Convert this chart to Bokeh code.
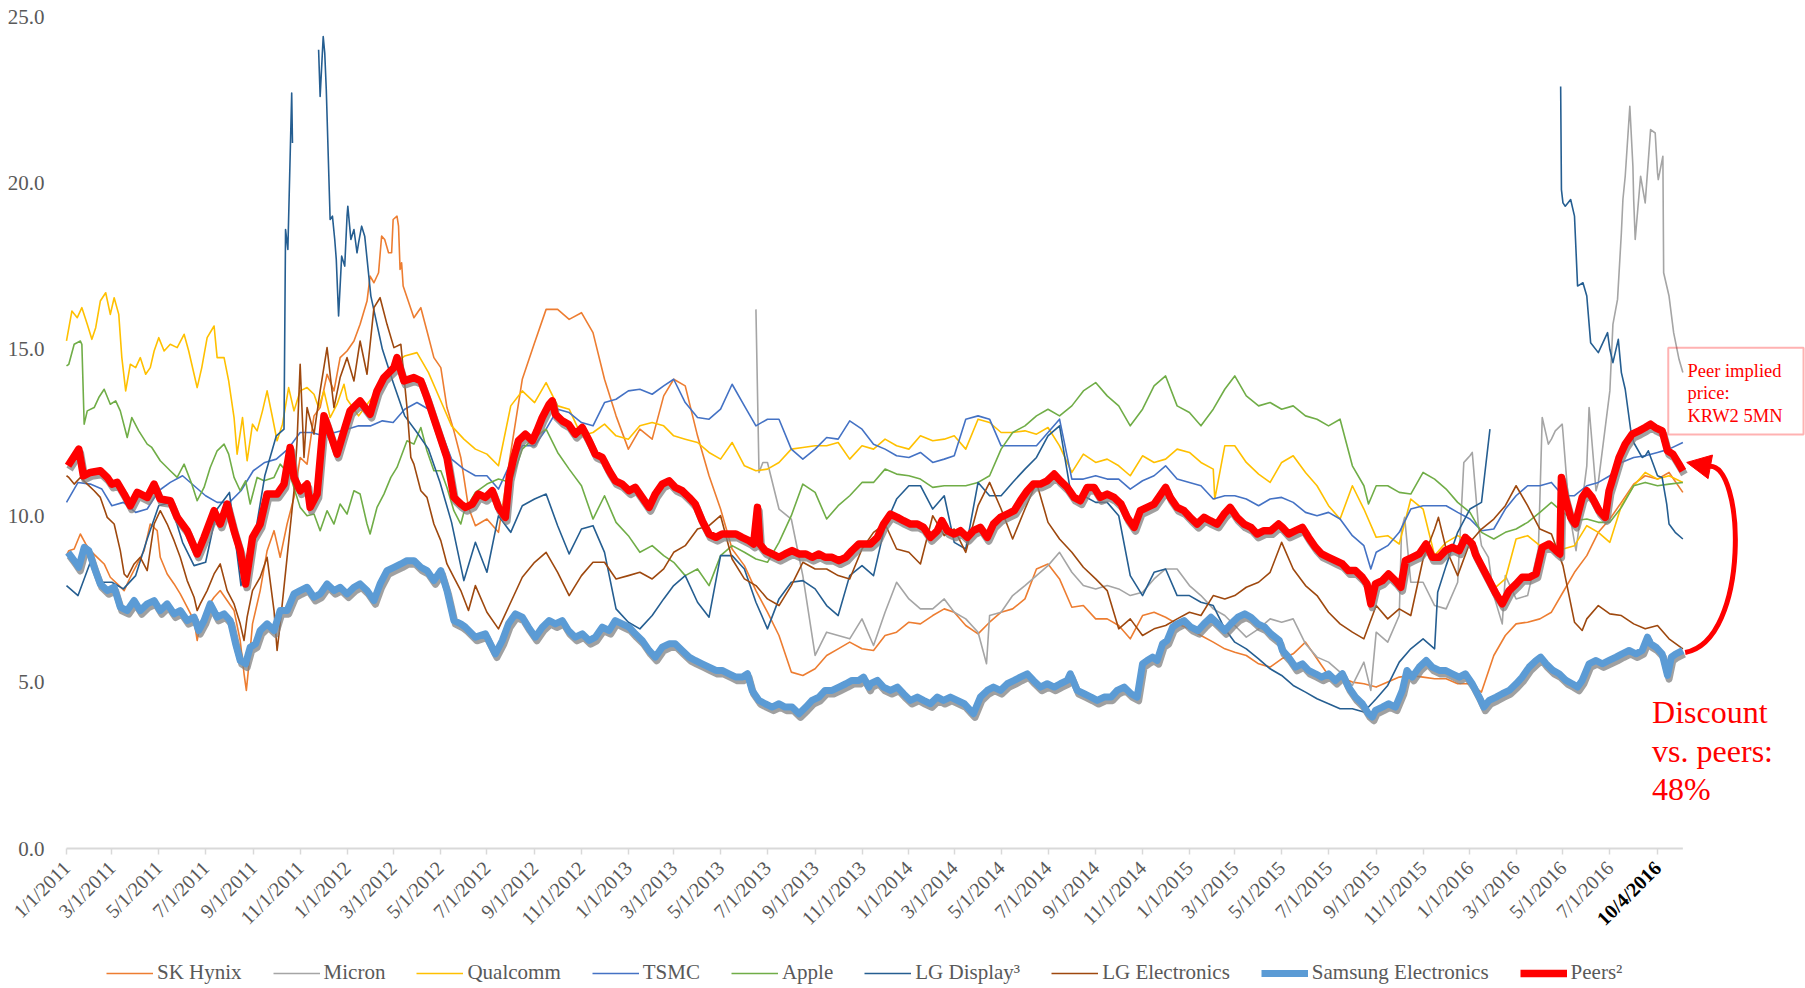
import pandas as pd
from math import pi
from bokeh.plotting import figure
from bokeh.models import (Range1d, FixedTicker, NumeralTickFormatter, Legend, LegendItem,
                          Label, Arrow, NormalHead, BoxAnnotation)
from bokeh.embed import file_html
from bokeh.resources import INLINE

# ---------------- data ----------------
GRID_DATES = [f"{y}-{m:02d}-{d:02d}" for y in range(2011, 2017) for m in range(1, 13) for d in (1, 16)]
GRID_DATES = [g for g in GRID_DATES if g <= "2016-09-16"] + ["2016-10-04"]

X_TICK_LABELS = ["1/1/2011", "3/1/2011", "5/1/2011", "7/1/2011", "9/1/2011", "11/1/2011",
                 "1/1/2012", "3/1/2012", "5/1/2012", "7/1/2012", "9/1/2012", "11/1/2012",
                 "1/1/2013", "3/1/2013", "5/1/2013", "7/1/2013", "9/1/2013", "11/1/2013",
                 "1/1/2014", "3/1/2014", "5/1/2014", "7/1/2014", "9/1/2014", "11/1/2014",
                 "1/1/2015", "3/1/2015", "5/1/2015", "7/1/2015", "9/1/2015", "11/1/2015",
                 "1/1/2016", "3/1/2016", "5/1/2016", "7/1/2016"]
LAST_TICK_DATE = "2016-09-01"
LAST_TICK_TEXT = "10/4/2016"
Y_TICKS = [0, 5, 10, 15, 20, 25]

N = None
SK_HYNIX = [
    8.8, 9.3, 9.0, 8.7, 8.2, 7.9, 8.6, 9.2, 8.6, 8.2, 7.6, 6.9, 7.0, 7.7, 7.7, 6.2, 6.8, 8.5, 8.6, 9.5, 11.7, 13.0, 14.2, 14.9,
    14.95, 15.8, 16.8, 18.4, 18.9, 16.5, 16.0, 15.4, 14.0, 12.7, 10.5, 9.7, 9.9, 9.5, 11.9, 14.1, 15.2, 16.2, 16.2, 15.9, 16.1, 15.5, 14.1, 13.0,
    12.0, 12.6, 12.3, 13.6, 14.1, 13.9, 12.4, 11.2, 10.2, 9.0, 8.5, 7.75, 7.1, 6.4, 5.3, 5.2, 5.4, 5.8, 6.0, 6.2, 6.0, 5.95, 6.4, 6.5,
    6.8, 6.75, 7.0, 7.2, 7.1, 6.7, 6.45, 6.8, 7.1, 7.2, 7.5, 8.4, 8.55, 8.1, 7.25, 7.3, 6.9, 6.9, 6.7, 6.3, 7.0, 7.1, 6.95, 6.75,
    6.6, 6.4, 6.2, 6.0, 5.9, 5.8, 5.55, 5.45, 5.7, 5.85, 6.2, 5.7, 5.2, 5.15, 5.0, 4.95, 4.85, 5.0, 5.15, 5.2, 5.15, 5.1, 5.1, 4.95,
    4.95, 4.7, 5.8, 6.4, 6.75, 6.8, 6.9, 7.1, 7.7, 8.3, 8.8, 9.5, 9.9, 10.4, 10.95, 11.2, 11.1, 11.3, 10.7]
SK_HYNIX_EXTRA = [("2011-08-22", 4.8), ("2012-03-04", 19.0)]
SK_HYNIX_DENSE = [
    ("2011-01-04", 8.95), ("2011-01-11", 9.0), ("2011-01-19", 9.45), ("2011-01-26", 9.15), ("2011-02-01", 8.95),
    ("2011-02-10", 8.75), ("2011-02-19", 8.55), ("2011-02-27", 8.15), ("2011-03-08", 7.95), ("2011-03-17", 7.75),
    ("2011-03-25", 8.15), ("2011-04-03", 8.55), ("2011-04-12", 8.95), ("2011-04-20", 9.75), ("2011-04-29", 9.55),
    ("2011-05-03", 8.75), ("2011-05-12", 8.25), ("2011-05-21", 7.95), ("2011-05-29", 7.65), ("2011-06-07", 7.25),
    ("2011-06-16", 6.85), ("2011-06-20", 6.25), ("2011-06-24", 6.75), ("2011-07-03", 7.25), ("2011-07-12", 7.55),
    ("2011-07-20", 7.75), ("2011-07-29", 7.45), ("2011-08-07", 7.15), ("2011-08-15", 6.25), ("2011-08-20", 5.25),
    ("2011-08-23", 4.75), ("2011-08-26", 5.45), ("2011-08-31", 6.75), ("2011-09-10", 7.75), ("2011-09-19", 8.95),
    ("2011-09-28", 9.55), ("2011-10-06", 8.75), ("2011-10-15", 9.75), ("2011-10-24", 10.55), ("2011-11-01", 11.75),
    ("2011-11-10", 11.55), ("2011-11-19", 13.0), ("2011-11-27", 13.25), ("2011-12-06", 14.25), ("2011-12-15", 13.75),
    ("2011-12-23", 14.75), ("2012-01-01", 14.95), ("2012-01-10", 15.25), ("2012-01-18", 15.75), ("2012-01-27", 16.45),
    ("2012-01-31", 17.2), ("2012-02-05", 17.0), ("2012-02-11", 17.3), ("2012-02-15", 18.4), ("2012-02-19", 18.3),
    ("2012-02-24", 17.9), ("2012-02-28", 17.9), ("2012-03-01", 18.9), ("2012-03-06", 19.0), ("2012-03-08", 18.7),
    ("2012-03-10", 17.4), ("2012-03-12", 17.6), ("2012-03-14", 16.9), ("2012-03-28", 15.95), ("2012-04-06", 16.25),
    ("2012-04-14", 15.55), ("2012-04-23", 14.75), ("2012-05-02", 14.45), ("2012-05-10", 13.25), ("2012-05-19", 12.55),
    ("2012-05-28", 11.75), ("2012-06-07", 10.25)]

MICRON = [N] * 24 + [N] * 24 + [
    N, N, N, N, N, N, N, N, N, N, N, 16.2, 11.6, 10.2, 9.9, 8.2, 5.8, 6.5, 6.4, 6.3, 6.9, 6.1, 7.1, 8.0,
    7.5, 7.2, 7.2, 7.5, 7.1, 6.9, 6.5, 7.0, 7.1, 7.6, 7.9, 8.2, 8.5, 8.9, 8.3, 7.9, 7.8, 7.9, 7.8, 7.6, 7.7, 8.1, 8.4, 8.4,
    7.9, 7.6, 7.2, 7.0, 6.7, 6.35, 6.6, 6.9, 6.8, 6.9, 6.15, 5.75, 5.6, 5.3, 4.9, 5.6, 6.5, 6.2, 7.0, 8.0, 8.0, 7.3, 7.2, 8.0,
    11.8, 9.1, 7.6, 8.2, 7.5, 7.6, 10.5, 12.3, 12.5, 9.2, 11.5, 11.0, 13.75, 18.5, 19.5, 19.4, 20.3, 16.6, 14.3]
MICRON_EXTRA = [("2013-06-20", 11.3), ("2013-06-25", 11.6), ("2014-04-12", 5.55), ("2015-08-25", 4.75),
                ("2015-10-04", 9.6), ("2015-10-08", 9.95), ("2015-12-24", 11.6), ("2015-12-28", 11.7),
                ("2016-01-04", 11.9), ("2016-01-12", 9.7), ("2016-01-25", 8.75), ("2016-02-12", 6.75),
                ("2016-03-30", 9.0), ("2016-04-04", 12.95), ("2016-04-12", 12.15), ("2016-04-21", 12.55),
                ("2016-04-30", 12.75), ("2016-05-09", 10.15), ("2016-05-18", 8.95), ("2016-06-04", 13.25),
                ("2016-06-13", 10.75), ("2016-07-05", 15.75), ("2016-07-11", 16.5), ("2016-07-15", 18.1),
                ("2016-07-18", 19.5), ("2016-07-21", 20.2), ("2016-07-27", 22.3), ("2016-07-31", 20.5),
                ("2016-08-03", 18.3), ("2016-08-10", 20.2), ("2016-08-23", 21.6), ("2016-08-29", 21.5),
                ("2016-09-02", 20.1), ("2016-09-08", 20.8), ("2016-09-09", 17.3), ("2016-09-22", 15.5),
                ("2016-09-29", 14.7)]

QUALCOMM = [
    15.25, 16.0, 15.6, 16.4, 16.1, 13.9, 14.45, 14.3, 15.35, 15.1, 15.3, 14.2, 15.0, 14.9, 14.0, 12.6, 12.7, 13.6, 12.3, 13.8, 13.7, 13.7, 13.7, 13.2,
    13.5, 13.0, 13.5, 14.0, 14.5, 14.8, 14.9, 14.3, 13.5, 12.7, 12.3, 12.0, 11.85, 11.5, 13.3, 13.75, 13.4, 14.0, 13.3, 13.2, 12.4, 12.5, 12.75, 12.4,
    12.3, 12.7, 12.8, 12.7, 12.4, 12.3, 12.2, 11.9, 11.7, 12.2, 11.5, 11.35, 11.4, 11.6, 12.0, 12.05, 12.1, 12.1, 12.2, 11.7, 12.1, 12.0, 12.3, 12.1,
    12.0, 12.4, 12.25, 12.3, 12.4, 12.0, 12.9, 12.8, 12.5, 12.5, 12.55, 12.45, 12.65, 12.1, 11.3, 11.85, 11.6, 11.7, 11.5, 11.2, 11.8, 11.6, 11.7, 12.0,
    11.9, 11.6, 11.4, 12.1, 12.1, 11.6, 11.25, 11.0, 11.6, 11.8, 11.3, 10.9, 10.3, 9.9, 10.9, 10.2, 9.35, 9.4, 9.15, 10.5, 10.2, 8.8, 9.2, 9.4,
    9.2, 8.5, 7.8, 8.1, 9.3, 9.4, 9.1, 9.0, 9.0, 9.1, 9.7, 9.5, 9.2, 10.3, 10.9, 11.3, 11.1, 11.2, 11.0]
QUALCOMM_EXTRA = [("2015-02-03", 10.5)]
QUALCOMM_DENSE = [
    ("2011-01-08", 16.15), ("2011-01-15", 15.95), ("2011-01-21", 16.25), ("2011-01-28", 15.75), ("2011-02-03", 15.3),
    ("2011-02-08", 15.65), ("2011-02-14", 16.45), ("2011-02-21", 16.7), ("2011-02-27", 16.05), ("2011-03-04", 16.55),
    ("2011-03-10", 16.05), ("2011-03-14", 14.75), ("2011-03-19", 13.75), ("2011-03-25", 14.55), ("2011-04-01", 14.45),
    ("2011-04-07", 14.75), ("2011-04-14", 14.25), ("2011-04-20", 14.45), ("2011-04-25", 14.95), ("2011-05-01", 15.35),
    ("2011-05-08", 14.95), ("2011-05-16", 15.15), ("2011-05-25", 15.05), ("2011-06-03", 15.45), ("2011-06-09", 14.95),
    ("2011-06-16", 14.25), ("2011-06-20", 13.85), ("2011-06-26", 14.45), ("2011-07-03", 15.35), ("2011-07-12", 15.7),
    ("2011-07-16", 14.75), ("2011-07-25", 14.75), ("2011-07-31", 14.05), ("2011-08-07", 12.95), ("2011-08-11", 11.85),
    ("2011-08-18", 12.95), ("2011-08-24", 11.65), ("2011-08-31", 12.75), ("2011-09-06", 12.55), ("2011-09-13", 13.15),
    ("2011-09-19", 13.75), ("2011-09-26", 12.95), ("2011-10-02", 12.25), ("2011-10-09", 12.75), ("2011-10-17", 13.85),
    ("2011-10-24", 13.15), ("2011-11-01", 13.75), ("2011-11-10", 13.85), ("2011-11-19", 13.65), ("2011-11-25", 13.25),
    ("2011-12-02", 13.75), ("2011-12-10", 12.95), ("2011-12-19", 13.35), ("2011-12-28", 13.95)]

TSMC = [
    10.4, 11.0, 10.95, 10.8, 10.3, 10.4, 10.1, 10.2, 10.75, 11.0, 11.2, 10.9, 10.6, 10.4, 10.4, 10.75, 11.35, 11.6, 11.7, 12.0, 12.5, 12.5, 12.4, 12.5,
    12.6, 12.7, 12.7, 12.85, 12.8, 13.2, 13.4, 13.2, 12.6, 11.7, 11.4, 11.2, 11.2, 10.8, 11.6, 12.1, 12.1, 12.6, 13.2, 13.1, 12.8, 12.7, 13.4, 13.5,
    13.75, 13.8, 13.65, 13.9, 14.1, 13.4, 12.95, 12.9, 13.2, 13.95, 13.3, 12.7, 12.9, 12.9, 12.0, 11.7, 12.0, 12.35, 12.3, 12.85, 12.6, 12.15, 12.0, 11.8,
    11.75, 11.9, 11.6, 11.7, 11.8, 12.9, 13.0, 12.9, 12.1, 12.1, 12.1, 12.1, 12.5, 12.9, 11.1, 11.1, 11.2, 11.1, 11.1, 10.8, 11.05, 11.2, 11.5, 11.1,
    11.0, 10.9, 10.5, 10.6, 10.6, 10.5, 10.3, 10.5, 10.55, 10.4, 10.1, 10.0, 10.1, 9.9, 9.4, 9.1, 8.9, 9.1, 9.5, 10.2, 10.3, 10.3, 10.3, 10.1,
    9.9, 9.55, 9.6, 10.2, 10.6, 10.9, 10.9, 11.0, 10.6, 10.6, 10.9, 11.0, 11.2, 11.6, 11.75, 11.8, 11.9, 12.0, 12.2]
TSMC_EXTRA = [("2015-08-25", 8.4)]

APPLE = [
    14.5, 15.2, 13.1, 13.5, 13.4, 13.2, 12.6, 12.2, 11.7, 11.4, 11.3, 10.6, 10.9, 11.9, 11.8, 10.8, 10.6, 11.1, 11.1, 11.4, 10.1, 9.7, 9.9, 10.2,
    10.5, 10.6, 9.6, 10.6, 11.4, 12.2, 12.6, 11.8, 11.4, 10.8, 10.1, 10.7, 10.95, 11.1, 11.0, 12.0, 12.35, 12.6, 11.9, 11.4, 10.9, 9.9, 10.6, 9.8,
    9.4, 8.9, 9.1, 8.8, 8.6, 8.2, 8.4, 7.9, 8.8, 9.1, 8.9, 8.7, 8.6, 9.2, 10.0, 10.95, 10.7, 9.9, 10.3, 10.6, 11.0, 11.0, 11.4, 11.25,
    11.2, 11.1, 10.85, 10.9, 10.9, 10.9, 11.0, 11.2, 12.0, 12.5, 12.7, 13.0, 13.2, 13.0, 13.3, 13.75, 14.0, 13.6, 13.3, 12.7, 13.2, 13.9, 14.2, 13.3,
    13.1, 12.7, 13.2, 13.8, 14.2, 13.6, 13.3, 13.4, 13.2, 13.3, 13.0, 12.9, 12.7, 12.9, 11.5, 10.9, 10.9, 10.9, 10.7, 10.65, 11.3, 11.1, 10.8, 10.4,
    10.1, 9.5, 9.3, 9.5, 9.6, 9.8, 10.1, 10.4, 10.1, 9.85, 9.9, 9.8, 9.8, 10.25, 10.9, 11.0, 10.9, 10.95, 11.0]
APPLE_EXTRA = [("2015-08-22", 10.35)]
APPLE_DENSE = [
    ("2011-01-04", 14.55), ("2011-01-11", 15.15), ("2011-01-19", 15.25), ("2011-01-21", 15.15), ("2011-01-24", 12.75),
    ("2011-01-28", 13.15), ("2011-02-06", 13.25), ("2011-02-12", 13.55), ("2011-02-19", 13.8), ("2011-02-27", 13.35),
    ("2011-03-06", 13.45), ("2011-03-12", 13.15), ("2011-03-21", 12.35), ("2011-03-27", 12.95), ("2011-04-05", 12.55),
    ("2011-04-16", 12.15), ("2011-04-22", 12.05), ("2011-05-03", 11.65), ("2011-05-16", 11.35), ("2011-05-25", 11.15),
    ("2011-06-03", 11.55), ("2011-06-13", 10.95), ("2011-06-20", 10.45), ("2011-06-29", 10.85), ("2011-07-07", 11.45),
    ("2011-07-16", 11.95), ("2011-07-25", 12.15), ("2011-07-31", 11.85), ("2011-08-07", 11.15), ("2011-08-15", 10.75),
    ("2011-08-22", 11.05), ("2011-08-28", 10.35), ("2011-09-06", 11.15), ("2011-09-15", 11.05), ("2011-09-28", 11.15),
    ("2011-10-06", 11.55), ("2011-10-19", 11.2), ("2011-11-01", 10.25), ("2011-11-10", 10.0), ("2011-11-19", 10.05),
    ("2011-11-27", 9.55), ("2011-12-06", 10.15), ("2011-12-15", 9.75), ("2011-12-23", 10.35), ("2012-01-01", 10.05),
    ("2012-01-10", 10.75), ("2012-01-18", 10.65), ("2012-01-27", 9.75), ("2012-01-31", 9.45), ("2012-02-09", 10.25),
    ("2012-02-18", 10.65), ("2012-02-27", 11.15), ("2012-03-06", 11.45), ("2012-03-19", 12.25), ("2012-03-28", 12.15),
    ("2012-04-06", 12.65), ("2012-04-14", 11.95), ("2012-04-23", 11.35), ("2012-05-02", 11.35), ("2012-05-10", 10.85),
    ("2012-05-19", 10.15), ("2012-05-28", 9.75)]

LG_DISPLAY = [
    7.9, 7.6, 8.6, 8.0, 8.0, 7.8, 8.2, 9.3, 10.3, 10.4, 9.2, 8.5, 8.6, 10.2, 10.7, 7.9, 9.1, 11.2, 12.4, 18.0, N, N, 24.4, 18.3,
    19.0, 18.2, 16.6, 15.0, 14.0, 13.0, 12.5, 12.0, 11.0, 9.8, 8.05, 9.2, 8.3, 10.0, 9.5, 10.3, 10.5, 10.65, 9.7, 8.85, 9.6, 9.7, 8.9, 7.2,
    6.8, 6.6, 7.0, 7.5, 7.9, 8.2, 7.4, 6.95, 8.8, 8.8, 8.4, 7.4, 6.6, 7.5, 8.0, 8.05, 7.8, 7.3, 7.0, 8.2, 8.5, 8.2, 9.7, 10.5,
    10.9, 10.9, 10.2, 10.6, 9.2, 9.0, 11.0, 10.6, 10.6, 11.0, 11.4, 11.75, 12.4, 12.7, 10.5, 10.6, 10.4, 10.4, 10.0, 8.2, 7.6, 8.3, 8.4, 7.6,
    7.6, 7.4, 7.3, 6.6, 6.2, 6.0, 5.7, 5.4, 5.2, 4.9, 4.7, 4.5, 4.35, 4.2, 4.2, 4.1, 4.5, 4.9, 5.6, 6.0, 6.3, 6.0, 8.5, 9.5,
    10.2, 10.4, N, N, N, N, N, N, 19.4, 19.0, 16.6, 14.9, 15.0, 14.3, 12.2, 11.8, 11.2, 9.75, 9.3]
LG_DISPLAY_EXTRA = [("2011-10-11", 12.6), ("2011-10-13", 18.6), ("2011-10-21", 22.7), ("2011-10-22", 21.2),
                    ("2011-11-25", 24.0), ("2011-11-27", 22.6), ("2011-12-03", 23.9), ("2011-12-05", 22.8),
                    ("2011-12-10", 18.9), ("2011-12-13", 19.0), ("2011-12-18", 17.7), ("2011-12-21", 16.0),
                    ("2011-12-25", 17.8), ("2011-12-29", 17.5), ("2012-01-02", 19.3), ("2012-01-06", 18.3),
                    ("2012-01-10", 18.6), ("2012-01-14", 17.9), ("2012-01-20", 18.7), ("2012-01-24", 18.4),
                    ("2015-11-20", 7.7), ("2016-01-20", 11.2), ("2016-01-27", 12.6),
                    ("2016-04-28", 22.9), ("2016-04-29", 19.8), ("2016-05-04", 19.3), ("2016-05-11", 19.5),
                    ("2016-05-20", 16.9), ("2016-05-27", 17.0), ("2016-06-06", 15.2), ("2016-06-28", 15.5),
                    ("2016-07-05", 14.6), ("2016-07-12", 15.3), ("2016-07-21", 13.8), ("2016-07-28", 12.6),
                    ("2016-08-12", 11.75), ("2016-08-20", 11.95), ("2016-09-07", 11.15), ("2016-09-13", 10.35),
                    ("2016-09-24", 9.5)]

LG_ELECTRONICS = [
    11.2, 10.95, 11.0, 10.6, 10.0, 8.6, 8.5, 8.4, 9.9, 9.6, 8.8, 7.6, 8.0, 8.4, 7.9, 6.6, 8.8, 8.6, 6.0, 8.5, 14.5, 13.5, 15.0, 13.8,
    14.5, 15.3, 16.0, 16.3, 15.0, 14.3, 11.3, 10.5, 9.6, 8.6, 7.5, 7.9, 7.1, 6.6, 7.4, 8.15, 8.6, 8.9, 8.3, 7.6, 8.2, 8.6, 8.6, 8.1,
    8.2, 8.3, 8.1, 8.4, 8.9, 9.1, 9.6, 9.7, 10.0, 8.7, 8.1, 7.9, 7.5, 7.3, 7.9, 8.6, 8.4, 8.4, 8.2, 8.1, 9.0, 9.5, 9.75, 9.0,
    8.9, 8.55, 10.0, 9.4, 9.6, 8.9, 10.3, 11.0, 10.2, 9.3, 10.2, 11.0, 9.8, 9.3, 8.9, 8.45, 8.1, 7.75, 6.6, 6.9, 6.4, 6.6, 6.7, 6.9,
    7.1, 7.0, 7.6, 7.5, 7.6, 7.85, 8.0, 8.3, 9.2, 8.4, 7.9, 7.6, 7.1, 6.75, 6.5, 6.3, 7.3, 6.9, 7.2, 7.0, 8.7, 9.6, 9.0, 8.2,
    9.2, 9.6, 9.9, 10.3, 10.9, 10.3, 9.6, 9.45, 8.5, 6.8, 6.9, 7.3, 7.05, 7.0, 6.75, 6.6, 6.7, 6.3, 6.0]
LG_ELECTRONICS_EXTRA = [("2015-11-21", 9.95), ("2016-05-26", 6.55)]
LG_ELECTRONICS_DENSE = [
    ("2011-01-04", 11.15), ("2011-01-11", 10.95), ("2011-01-19", 11.15), ("2011-01-28", 10.95), ("2011-02-06", 10.75),
    ("2011-02-14", 10.55), ("2011-02-23", 9.95), ("2011-03-04", 9.75), ("2011-03-12", 8.95), ("2011-03-17", 8.25),
    ("2011-03-21", 8.15), ("2011-03-30", 8.55), ("2011-04-07", 8.75), ("2011-04-16", 8.35), ("2011-04-25", 9.75),
    ("2011-05-03", 10.15), ("2011-05-12", 9.75), ("2011-05-21", 9.25), ("2011-05-29", 8.75), ("2011-06-07", 8.05),
    ("2011-06-16", 7.55), ("2011-06-20", 7.15), ("2011-06-24", 7.35), ("2011-07-03", 7.75), ("2011-07-12", 8.25),
    ("2011-07-20", 8.55), ("2011-07-29", 7.75), ("2011-08-07", 7.35), ("2011-08-15", 6.75), ("2011-08-20", 6.25),
    ("2011-08-24", 6.95), ("2011-08-31", 7.75), ("2011-09-10", 8.15), ("2011-09-19", 8.75), ("2011-09-28", 7.15),
    ("2011-10-02", 5.95), ("2011-10-06", 6.75), ("2011-10-15", 8.75), ("2011-10-24", 10.75), ("2011-10-28", 12.25),
    ("2011-11-01", 14.55), ("2011-11-06", 11.75), ("2011-11-10", 13.25), ("2011-11-19", 12.45), ("2011-11-27", 13.75),
    ("2011-12-06", 15.05), ("2011-12-15", 13.25), ("2011-12-23", 14.15), ("2012-01-01", 14.75), ("2012-01-10", 14.05),
    ("2012-01-18", 15.25), ("2012-01-27", 14.25), ("2012-02-05", 16.25), ("2012-02-13", 16.55), ("2012-02-22", 15.75),
    ("2012-03-02", 15.05), ("2012-03-11", 15.15), ("2012-03-19", 13.25), ("2012-03-24", 11.75), ("2012-03-28", 11.55),
    ("2012-04-06", 10.75), ("2012-04-14", 10.55), ("2012-04-23", 9.75), ("2012-05-02", 9.25), ("2012-05-10", 8.55),
    ("2012-05-19", 8.15), ("2012-05-28", 7.75), ("2012-06-07", 7.15)]

SAMSUNG_POINTS = [
    ("2011-01-03", 8.9), ("2011-01-11", 8.65), ("2011-01-17", 8.45), ("2011-01-24", 9.05), ("2011-01-30", 8.95),
    ("2011-02-06", 8.45), ("2011-02-14", 7.95), ("2011-02-23", 7.75), ("2011-03-04", 7.85), ("2011-03-12", 7.25),
    ("2011-03-21", 7.15), ("2011-03-30", 7.45), ("2011-04-07", 7.15), ("2011-04-16", 7.35), ("2011-04-25", 7.45),
    ("2011-05-03", 7.15), ("2011-05-12", 7.35), ("2011-05-21", 7.05), ("2011-05-29", 7.15), ("2011-06-07", 6.85),
    ("2011-06-16", 6.95), ("2011-06-22", 6.55), ("2011-06-29", 6.85), ("2011-07-07", 7.35), ("2011-07-16", 6.95),
    ("2011-07-25", 7.05), ("2011-08-02", 6.85), ("2011-08-09", 6.15), ("2011-08-15", 5.65), ("2011-08-22", 5.55),
    ("2011-08-28", 6.05), ("2011-09-04", 6.15), ("2011-09-10", 6.55), ("2011-09-19", 6.75), ("2011-09-28", 6.55),
    ("2011-10-06", 7.15), ("2011-10-15", 7.15), ("2011-10-24", 7.65), ("2011-11-01", 7.75), ("2011-11-10", 7.85),
    ("2011-11-19", 7.55), ("2011-11-27", 7.65), ("2011-12-06", 7.95), ("2011-12-15", 7.75), ("2011-12-23", 7.85),
    ("2012-01-01", 7.65), ("2012-01-10", 7.85), ("2012-01-18", 7.95), ("2012-01-27", 7.75), ("2012-02-05", 7.45),
    ("2012-02-13", 7.95), ("2012-02-22", 8.35), ("2012-03-02", 8.45), ("2012-03-11", 8.55), ("2012-03-19", 8.65),
    ("2012-03-28", 8.65), ("2012-04-06", 8.45), ("2012-04-14", 8.35), ("2012-04-23", 8.05), ("2012-05-02", 8.35),
    ("2012-05-10", 7.75), ("2012-05-19", 6.85), ("2012-05-28", 6.75), ("2012-06-03", 6.65), ("2012-06-16", 6.35),
    ("2012-06-29", 6.45), ("2012-07-12", 5.85), ("2012-07-21", 6.25), ("2012-07-29", 6.75), ("2012-08-07", 7.05),
    ("2012-08-16", 6.95), ("2012-08-24", 6.65), ("2012-09-02", 6.35), ("2012-09-11", 6.65), ("2012-09-20", 6.85),
    ("2012-09-28", 6.75), ("2012-10-07", 6.85), ("2012-10-15", 6.55), ("2012-10-24", 6.35), ("2012-11-02", 6.45),
    ("2012-11-11", 6.25), ("2012-11-19", 6.35), ("2012-11-28", 6.65), ("2012-12-07", 6.55), ("2012-12-15", 6.85),
    ("2012-12-24", 6.75), ("2013-01-02", 6.65), ("2013-01-10", 6.45), ("2013-01-19", 6.25), ("2013-01-28", 5.95),
    ("2013-02-05", 5.75), ("2013-02-14", 6.05), ("2013-02-23", 6.15), ("2013-03-03", 6.15), ("2013-03-12", 5.95),
    ("2013-03-21", 5.75), ("2013-03-29", 5.65), ("2013-04-07", 5.55), ("2013-04-16", 5.45), ("2013-04-25", 5.35),
    ("2013-05-03", 5.35), ("2013-05-12", 5.25), ("2013-05-21", 5.15), ("2013-05-29", 5.15), ("2013-06-05", 5.25),
    ("2013-06-11", 4.75), ("2013-06-20", 4.45), ("2013-06-28", 4.35), ("2013-07-07", 4.25), ("2013-07-16", 4.35),
    ("2013-07-24", 4.25), ("2013-08-02", 4.25), ("2013-08-11", 4.05), ("2013-08-20", 4.25), ("2013-08-28", 4.45),
    ("2013-09-06", 4.55), ("2013-09-14", 4.75), ("2013-09-23", 4.75), ("2013-10-02", 4.85), ("2013-10-11", 4.95),
    ("2013-10-19", 5.05), ("2013-10-28", 5.05), ("2013-11-03", 5.15), ("2013-11-10", 4.85), ("2013-11-12", 4.95),
    ("2013-11-21", 5.05), ("2013-11-29", 4.85), ("2013-12-08", 4.75), ("2013-12-17", 4.85), ("2013-12-25", 4.65),
    ("2014-01-03", 4.45), ("2014-01-12", 4.55), ("2014-01-20", 4.45), ("2014-01-29", 4.35), ("2014-02-07", 4.55),
    ("2014-02-15", 4.45), ("2014-02-24", 4.55), ("2014-03-05", 4.45), ("2014-03-14", 4.35), ("2014-03-22", 4.15),
    ("2014-03-26", 4.05), ("2014-04-04", 4.55), ("2014-04-13", 4.75), ("2014-04-21", 4.85), ("2014-04-30", 4.75),
    ("2014-05-09", 4.95), ("2014-05-18", 5.05), ("2014-05-26", 5.15), ("2014-06-04", 5.25), ("2014-06-12", 5.05),
    ("2014-06-21", 4.85), ("2014-06-30", 4.95), ("2014-07-09", 4.85), ("2014-07-17", 4.95), ("2014-07-26", 5.05),
    ("2014-07-30", 5.25), ("2014-08-08", 4.75), ("2014-08-17", 4.65), ("2014-08-26", 4.55), ("2014-09-03", 4.45),
    ("2014-09-12", 4.55), ("2014-09-21", 4.55), ("2014-09-29", 4.75), ("2014-10-08", 4.85), ("2014-10-17", 4.65),
    ("2014-10-25", 4.55), ("2014-11-01", 5.55), ("2014-11-07", 5.65), ("2014-11-14", 5.75), ("2014-11-20", 5.65),
    ("2014-11-27", 6.15), ("2014-12-03", 6.25), ("2014-12-10", 6.65), ("2014-12-16", 6.75), ("2014-12-25", 6.85),
    ("2015-01-03", 6.65), ("2015-01-12", 6.55), ("2015-01-20", 6.75), ("2015-01-29", 6.95), ("2015-02-07", 6.75),
    ("2015-02-16", 6.55), ("2015-02-24", 6.75), ("2015-03-05", 6.95), ("2015-03-14", 7.05), ("2015-03-22", 6.95),
    ("2015-03-31", 6.75), ("2015-04-09", 6.65), ("2015-04-17", 6.45), ("2015-04-28", 6.25), ("2015-05-02", 5.95),
    ("2015-05-10", 5.75), ("2015-05-19", 5.45), ("2015-05-28", 5.55), ("2015-06-05", 5.35), ("2015-06-14", 5.25),
    ("2015-06-22", 5.15), ("2015-07-01", 5.25), ("2015-07-10", 5.05), ("2015-07-19", 5.25), ("2015-07-27", 4.85),
    ("2015-08-05", 4.55), ("2015-08-14", 4.35), ("2015-08-22", 4.05), ("2015-08-27", 3.95), ("2015-08-31", 4.15),
    ("2015-09-09", 4.25), ("2015-09-17", 4.35), ("2015-09-26", 4.25), ("2015-10-05", 4.75), ("2015-10-11", 5.35),
    ("2015-10-18", 5.15), ("2015-10-27", 5.45), ("2015-11-05", 5.65), ("2015-11-13", 5.45), ("2015-11-22", 5.35),
    ("2015-11-30", 5.35), ("2015-12-09", 5.25), ("2015-12-18", 5.15), ("2015-12-26", 5.25), ("2016-01-04", 4.95),
    ("2016-01-13", 4.55), ("2016-01-19", 4.25), ("2016-01-26", 4.45), ("2016-02-04", 4.55), ("2016-02-12", 4.65),
    ("2016-02-21", 4.75), ("2016-03-01", 4.95), ("2016-03-09", 5.15), ("2016-03-18", 5.45), ("2016-03-27", 5.65),
    ("2016-04-02", 5.75), ("2016-04-09", 5.55), ("2016-04-18", 5.35), ("2016-04-26", 5.25), ("2016-05-05", 5.05),
    ("2016-05-13", 4.95), ("2016-05-20", 4.85), ("2016-05-26", 5.05), ("2016-06-04", 5.55), ("2016-06-13", 5.65),
    ("2016-06-21", 5.55), ("2016-06-30", 5.65), ("2016-07-09", 5.75), ("2016-07-17", 5.85), ("2016-07-26", 5.95),
    ("2016-08-04", 5.85), ("2016-08-12", 5.95), ("2016-08-19", 6.35), ("2016-08-23", 6.15), ("2016-08-30", 6.05),
    ("2016-09-07", 5.85), ("2016-09-14", 5.2), ("2016-09-19", 5.75), ("2016-09-25", 5.85), ("2016-10-04", 5.95)]

PEERS_POINTS = [
    ("2011-01-03", 11.5), ("2011-01-17", 12.0), ("2011-01-23", 11.2), ("2011-02-01", 11.3), ("2011-02-14", 11.35),
    ("2011-02-23", 11.15), ("2011-03-01", 10.95), ("2011-03-08", 11.0), ("2011-03-17", 10.65), ("2011-03-25", 10.3),
    ("2011-04-03", 10.7), ("2011-04-16", 10.55), ("2011-04-25", 10.95), ("2011-05-03", 10.5), ("2011-05-16", 10.45),
    ("2011-05-25", 9.95), ("2011-06-07", 9.55), ("2011-06-20", 8.85), ("2011-06-29", 9.35), ("2011-07-12", 10.15),
    ("2011-07-20", 9.75), ("2011-07-29", 10.35), ("2011-08-07", 9.55), ("2011-08-15", 8.95), ("2011-08-22", 7.95),
    ("2011-08-31", 9.35), ("2011-09-10", 9.75), ("2011-09-19", 10.65), ("2011-10-02", 10.65), ("2011-10-11", 10.95),
    ("2011-10-19", 12.05), ("2011-10-24", 11.15), ("2011-11-01", 10.75), ("2011-11-10", 10.95), ("2011-11-14", 10.25),
    ("2011-11-23", 10.65), ("2011-12-02", 13.0), ("2011-12-06", 12.75), ("2011-12-19", 11.85), ("2011-12-28", 12.55),
    ("2012-01-05", 13.15), ("2012-01-18", 13.45), ("2012-01-31", 13.05), ("2012-02-09", 13.75), ("2012-02-18", 14.15),
    ("2012-03-02", 14.45), ("2012-03-06", 14.75), ("2012-03-15", 14.05), ("2012-03-28", 14.15), ("2012-04-06", 14.05),
    ("2012-04-14", 13.55), ("2012-04-27", 12.65), ("2012-05-10", 11.75), ("2012-05-19", 10.55), ("2012-05-28", 10.35),
    ("2012-06-03", 10.25), ("2012-06-12", 10.35), ("2012-06-20", 10.65), ("2012-06-29", 10.55), ("2012-07-08", 10.75),
    ("2012-07-16", 10.25), ("2012-07-25", 9.95), ("2012-07-30", 11.15), ("2012-08-05", 11.75), ("2012-08-11", 12.25),
    ("2012-08-20", 12.45), ("2012-08-29", 12.25), ("2012-09-04", 12.55), ("2012-09-11", 12.95), ("2012-09-20", 13.35),
    ("2012-09-24", 13.45), ("2012-09-28", 13.05), ("2012-10-07", 12.85), ("2012-10-15", 12.75), ("2012-10-24", 12.45),
    ("2012-11-02", 12.65), ("2012-11-11", 12.25), ("2012-11-19", 11.85), ("2012-11-28", 11.75), ("2012-12-07", 11.35),
    ("2012-12-15", 11.05), ("2012-12-24", 10.95), ("2013-01-02", 10.75), ("2013-01-10", 10.85), ("2013-01-19", 10.55),
    ("2013-01-28", 10.25), ("2013-02-05", 10.65), ("2013-02-14", 10.95), ("2013-02-23", 11.05), ("2013-03-03", 10.85),
    ("2013-03-12", 10.75), ("2013-03-21", 10.55), ("2013-03-29", 10.35), ("2013-04-07", 9.85), ("2013-04-16", 9.45),
    ("2013-04-25", 9.35), ("2013-05-03", 9.45), ("2013-05-12", 9.45), ("2013-05-21", 9.45), ("2013-05-29", 9.35),
    ("2013-06-07", 9.25), ("2013-06-13", 9.15), ("2013-06-18", 10.25), ("2013-06-21", 9.15), ("2013-06-28", 8.95),
    ("2013-07-07", 8.85), ("2013-07-16", 8.75), ("2013-07-24", 8.85), ("2013-08-02", 8.95), ("2013-08-11", 8.85),
    ("2013-08-20", 8.85), ("2013-08-28", 8.75), ("2013-09-06", 8.85), ("2013-09-14", 8.75), ("2013-09-23", 8.75),
    ("2013-10-02", 8.65), ("2013-10-11", 8.75), ("2013-10-19", 8.95), ("2013-10-28", 9.15), ("2013-11-06", 9.15),
    ("2013-11-12", 9.15), ("2013-11-21", 9.35), ("2013-11-29", 9.75), ("2013-12-08", 10.05), ("2013-12-17", 9.95),
    ("2013-12-25", 9.85), ("2014-01-03", 9.75), ("2014-01-12", 9.75), ("2014-01-20", 9.65), ("2014-01-29", 9.35),
    ("2014-02-07", 9.55), ("2014-02-13", 9.85), ("2014-02-20", 9.55), ("2014-03-01", 9.45), ("2014-03-09", 9.55),
    ("2014-03-18", 9.35), ("2014-03-26", 9.55), ("2014-04-04", 9.65), ("2014-04-13", 9.35), ("2014-04-21", 9.75),
    ("2014-04-30", 9.95), ("2014-05-09", 10.05), ("2014-05-18", 10.15), ("2014-05-26", 10.45), ("2014-06-04", 10.75),
    ("2014-06-12", 10.95), ("2014-06-21", 10.95), ("2014-06-30", 11.05), ("2014-07-09", 11.25), ("2014-07-17", 11.05),
    ("2014-07-26", 10.85), ("2014-08-04", 10.55), ("2014-08-12", 10.45), ("2014-08-21", 10.85), ("2014-08-30", 10.85),
    ("2014-09-07", 10.55), ("2014-09-16", 10.65), ("2014-09-25", 10.55), ("2014-10-04", 10.35), ("2014-10-12", 9.95),
    ("2014-10-21", 9.65), ("2014-10-29", 10.15), ("2014-11-07", 10.25), ("2014-11-16", 10.35), ("2014-11-25", 10.65),
    ("2014-12-01", 10.85), ("2014-12-07", 10.55), ("2014-12-16", 10.25), ("2014-12-25", 10.15), ("2015-01-02", 9.95),
    ("2015-01-11", 9.75), ("2015-01-20", 9.95), ("2015-01-28", 9.85), ("2015-02-06", 9.75), ("2015-02-15", 10.05),
    ("2015-02-23", 10.25), ("2015-03-04", 9.95), ("2015-03-13", 9.75), ("2015-03-22", 9.65), ("2015-03-30", 9.45),
    ("2015-04-08", 9.55), ("2015-04-17", 9.55), ("2015-04-27", 9.75), ("2015-05-02", 9.65), ("2015-05-10", 9.45),
    ("2015-05-19", 9.55), ("2015-05-28", 9.65), ("2015-06-05", 9.35), ("2015-06-14", 9.05), ("2015-06-22", 8.85),
    ("2015-07-01", 8.75), ("2015-07-10", 8.65), ("2015-07-19", 8.55), ("2015-07-27", 8.35), ("2015-08-05", 8.35),
    ("2015-08-14", 8.15), ("2015-08-20", 7.95), ("2015-08-25", 7.35), ("2015-08-31", 7.95), ("2015-09-09", 8.05),
    ("2015-09-17", 8.25), ("2015-09-26", 8.05), ("2015-10-03", 7.85), ("2015-10-09", 8.65), ("2015-10-18", 8.75),
    ("2015-10-27", 8.85), ("2015-11-05", 9.15), ("2015-11-13", 8.75), ("2015-11-22", 8.75), ("2015-11-30", 8.95),
    ("2015-12-09", 9.05), ("2015-12-18", 8.95), ("2015-12-26", 9.35), ("2016-01-04", 9.15), ("2016-01-08", 8.85),
    ("2016-01-17", 8.45), ("2016-01-26", 8.05), ("2016-02-04", 7.65), ("2016-02-12", 7.35), ("2016-02-21", 7.75),
    ("2016-03-01", 7.95), ("2016-03-09", 8.15), ("2016-03-18", 8.15), ("2016-03-27", 8.25), ("2016-04-04", 9.05),
    ("2016-04-13", 9.15), ("2016-04-22", 8.95), ("2016-04-27", 8.85), ("2016-04-29", 11.15), ("2016-05-04", 10.55),
    ("2016-05-11", 9.95), ("2016-05-17", 9.75), ("2016-05-26", 10.55), ("2016-06-01", 10.75), ("2016-06-08", 10.55),
    ("2016-06-17", 10.15), ("2016-06-25", 9.95), ("2016-06-30", 10.75), ("2016-07-04", 11.05), ("2016-07-13", 11.75),
    ("2016-07-21", 12.15), ("2016-07-30", 12.45), ("2016-08-08", 12.55), ("2016-08-16", 12.65), ("2016-08-23", 12.75),
    ("2016-08-29", 12.65), ("2016-09-07", 12.55), ("2016-09-14", 11.95), ("2016-09-21", 11.85), ("2016-09-29", 11.55),
    ("2016-10-04", 11.35)]

SERIES_NAMES = ["SK Hynix", "Micron", "Qualcomm", "TSMC", "Apple", "LG Display\u00b3",
                "LG Electronics", "Samsung Electronics", "Peers\u00b2"]

# ---------------- styles / layout ----------------
FONT = "Liberation Serif"
TXT = "#595959"
RED = "#FF0000"
STYLE = [  # color, width, shadow
    ("#ED7D31", 1.6, False), ("#A5A5A5", 1.6, False), ("#FFC000", 1.6, False),
    ("#4472C4", 1.6, False), ("#70AD47", 1.6, False), ("#255E91", 1.6, False),
    ("#9E480E", 1.6, False), ("#5B9BD5", 7.0, True), (RED, 7.5, True)]

W, H = 1805, 988
AXIS_X_PX, Y25_PX = 66, 16          # pixel position of 1/1/2011 and of the value 25
PX_PER_DAY = 0.7686
PX_PER_UNIT = 33.28
DAY_MS = 86400000
TICK_OUT, STANDOFF = 6, 10


def ms(d):
    return pd.Timestamp(d).value // 10**6


def build(vals, extras=(), dense=()):
    idx = pd.to_datetime(GRID_DATES[:len(vals)])
    s = pd.Series([float("nan") if v is None else float(v) for v in vals], index=idx)
    pts = list(extras)
    if dense:
        dd = pd.to_datetime([d for d, _ in dense])
        lo, hi = dd.min(), dd.max()
        s = s[(s.index < lo) | (s.index > hi)]
        pts = [(d, v) for d, v in extras if not (lo <= pd.Timestamp(d) <= hi)] + list(dense)
    if pts:
        e = pd.Series([float(v) for _, v in pts], index=pd.to_datetime([d for d, _ in pts]))
        e = e[~e.index.duplicated()]
        s = pd.concat([s[~s.index.isin(e.index)], e]).sort_index()
    return s


def build_points(points):
    s = pd.Series([float(v) for _, v in points], index=pd.to_datetime([d for d, _ in points]))
    return s[~s.index.duplicated()].sort_index()


x_origin = ms(GRID_DATES[0])
x_start = x_origin - AXIS_X_PX / PX_PER_DAY * DAY_MS
x_end = x_start + W / PX_PER_DAY * DAY_MS
y_top = 25.0 + Y25_PX / PX_PER_UNIT
y_bottom = y_top - H / PX_PER_UNIT

p = figure(width=W, height=H, x_axis_type="datetime",
           x_range=Range1d(x_start, x_end), y_range=Range1d(y_bottom, y_top),
           output_backend="svg", toolbar_location=None,
           min_border=0, min_border_left=0, min_border_right=0, min_border_top=0, min_border_bottom=0)
p.outline_line_color = None
p.grid.grid_line_color = None
p.background_fill_color = "white"

# y axis, fixed at 1/1/2011
p.yaxis.fixed_location = x_origin
p.yaxis.ticker = FixedTicker(ticks=Y_TICKS)
p.yaxis.formatter = NumeralTickFormatter(format="0.0")
p.yaxis.axis_line_color = None
p.yaxis.major_tick_line_color = None
p.yaxis.minor_tick_line_color = None
p.yaxis.major_label_text_font = FONT
p.yaxis.major_label_text_font_size = "21px"
p.yaxis.major_label_text_color = TXT
p.yaxis.major_label_standoff = 16

# x axis, fixed at y = 0
tick_dates = list(pd.to_datetime(X_TICK_LABELS, format="%m/%d/%Y")) + [pd.Timestamp(LAST_TICK_DATE)]
tick_ms = [int(t.value // 10**6) for t in tick_dates]
overrides = {tm: lab for tm, lab in zip(tick_ms, X_TICK_LABELS)}
overrides[tick_ms[-1]] = ""
p.xaxis.fixed_location = 0
p.xaxis.ticker = FixedTicker(ticks=tick_ms)
p.xaxis.major_label_overrides = overrides
p.xaxis.major_label_orientation = pi / 4
p.xaxis.axis_line_color = None
p.xaxis.major_tick_line_color = "#D9D9D9"
p.xaxis.major_tick_line_width = 1.5
p.xaxis.major_tick_out = TICK_OUT
p.xaxis.major_tick_in = 0
p.xaxis.minor_tick_line_color = None
p.xaxis.major_label_text_font = FONT
p.xaxis.major_label_text_font_size = "20px"
p.xaxis.major_label_text_color = TXT
p.xaxis.major_label_standoff = STANDOFF

# x axis line (only under the data span)
p.line(x=[ms(GRID_DATES[0]), ms(GRID_DATES[-1])], y=[0, 0], line_color="#D9D9D9", line_width=2)

series = [build(SK_HYNIX, SK_HYNIX_EXTRA, SK_HYNIX_DENSE),
          build(MICRON, MICRON_EXTRA),
          build(QUALCOMM, QUALCOMM_EXTRA, QUALCOMM_DENSE),
          build(TSMC, TSMC_EXTRA),
          build(APPLE, APPLE_EXTRA, APPLE_DENSE),
          build(LG_DISPLAY, LG_DISPLAY_EXTRA),
          build(LG_ELECTRONICS, LG_ELECTRONICS_EXTRA, LG_ELECTRONICS_DENSE),
          build_points(SAMSUNG_POINTS),
          build_points(PEERS_POINTS)]

items = []
for name, s, (color, width, shadow) in zip(SERIES_NAMES, series, STYLE):
    if shadow:
        p.line(x=s.index + pd.Timedelta(days=2), y=s.values - 0.11, line_color="#808080",
               line_alpha=0.75, line_width=width, line_join="round")
    r = p.line(x=s.index, y=s.values, line_color=color, line_width=width, line_join="round")
    items.append(LegendItem(label=name, renderers=[r]))

legend = Legend(items=items, orientation="horizontal", location=(106, 3),
                glyph_width=47, glyph_height=20, label_standoff=4, spacing=31,
                padding=0, margin=0, border_line_color=None, background_fill_alpha=0,
                label_text_font=FONT, label_text_font_size="21px", label_text_color=TXT)
p.add_layout(legend)

# bold last tick label
p.add_layout(Label(x=ms(LAST_TICK_DATE), y=-(TICK_OUT + STANDOFF) / PX_PER_UNIT,
                   text=LAST_TICK_TEXT, angle=pi / 4, text_align="right", text_baseline="middle",
                   text_font=FONT, text_font_size="20px", text_font_style="bold", text_color="black"))

# ---------------- annotations ----------------
ARROW_P0 = ("2016-10-07", 5.89)
ARROW_C0 = ("2016-12-31", 6.25)
ARROW_C1 = ("2016-12-24", 11.66)
ARROW_P1 = ("2016-11-06", 11.48)
ARROW_TIP = ("2016-10-09", 11.6)
p.bezier(x0=[ms(ARROW_P0[0])], y0=[ARROW_P0[1]], x1=[ms(ARROW_P1[0])], y1=[ARROW_P1[1]],
         cx0=[ms(ARROW_C0[0])], cy0=[ARROW_C0[1]], cx1=[ms(ARROW_C1[0])], cy1=[ARROW_C1[1]],
         line_color=RED, line_width=5)
p.add_layout(Arrow(x_start=ms(ARROW_P1[0]), y_start=ARROW_P1[1], x_end=ms(ARROW_TIP[0]), y_end=ARROW_TIP[1],
                   line_color=RED, line_width=5,
                   end=NormalHead(size=24, fill_color=RED, line_color=RED)))

BOX = dict(left="2016-09-15", right="2017-03-10", top=15.05, bottom=12.44)
p.add_layout(BoxAnnotation(left=ms(BOX["left"]), right=ms(BOX["right"]), top=BOX["top"], bottom=BOX["bottom"],
                           fill_alpha=0, line_color=RED, line_width=2))
BOX_TEXT = ["Peer implied", "price:", "KRW2 5MN"]
BOX_TEXT_Y = [14.36, 13.70, 13.01]
for t, yv in zip(BOX_TEXT, BOX_TEXT_Y):
    p.add_layout(Label(x=ms("2016-10-10"), y=yv, text=t, text_align="left", text_baseline="middle",
                       text_font=FONT, text_font_size="18.5px", text_color=RED))

DISC_TEXT = ["Discount", "vs. peers:", "48%"]
DISC_Y = [4.09, 2.94, 1.80]
for t, yv in zip(DISC_TEXT, DISC_Y):
    p.add_layout(Label(x=ms("2016-08-25"), y=yv, text=t, text_align="left", text_baseline="middle",
                       text_font=FONT, text_font_size="32px", text_color=RED))

open("out.html", "w").write(file_html(p, INLINE))
